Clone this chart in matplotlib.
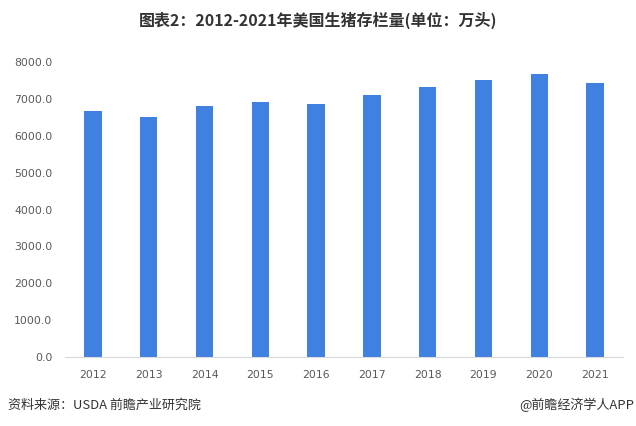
import numpy as np
import matplotlib
matplotlib.use('Agg')
import matplotlib.pyplot as plt

plt.rcParams['font.family'] = ['Noto Sans CJK SC', 'DejaVu Sans']

years = ['2012', '2013', '2014', '2015', '2016', '2017', '2018', '2019', '2020', '2021']
hogs = [6667, 6510, 6800, 6915, 6855, 7100, 7320, 7500, 7665, 7435]
yticks = [0, 1000, 2000, 3000, 4000, 5000, 6000, 7000, 8000]

fig = plt.figure(figsize=(6.36, 4.26), dpi=100)
ax = fig.add_axes([65/636, 69/426, 558/636, 295/426])

x = np.arange(len(years))
ax.bar(x, hogs, width=0.31, color='#3f80e0')

ax.set_xlim(-0.5, len(years) - 0.5)
ax.set_ylim(0, 8000)
ax.set_yticks(yticks)
ax.set_yticklabels([f'{v:.1f}' for v in yticks])
ax.set_xticks(x)
ax.set_xticklabels(years)
ax.tick_params(axis='both', length=0, labelsize=7.8, colors='#595959')
ax.tick_params(axis='y', pad=9)
ax.tick_params(axis='x', pad=9)
for lab in ax.get_xticklabels() + ax.get_yticklabels():
    lab.set_family('DejaVu Sans')

for s in ['top', 'right', 'left']:
    ax.spines[s].set_visible(False)
ax.spines['bottom'].set_color('#d9d9d9')
ax.spines['bottom'].set_linewidth(0.8)

fig.text(0.5, 1 - 20/426, '图表2：2012-2021年美国生猪存栏量(单位：万头)',
         ha='center', va='center', fontsize=11.5, fontweight='bold', color='#333333')
fig.text(8/636, 1 - 405/426, '资料来源：USDA 前瞻产业研究院',
         ha='left', va='center', fontsize=9.4, color='#333333')
fig.text(634/636, 1 - 405/426, '@前瞻经济学人APP',
         ha='right', va='center', fontsize=9.4, color='#333333')

fig.savefig('out.png', dpi=100)
